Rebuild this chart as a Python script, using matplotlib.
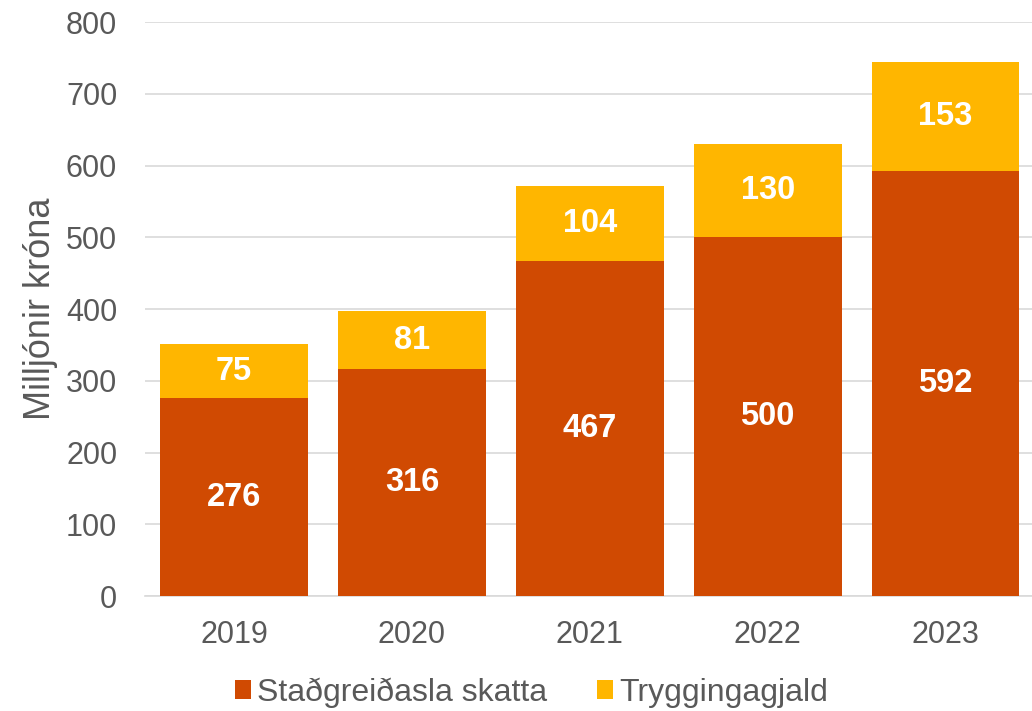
import matplotlib
matplotlib.use('Agg')
import matplotlib.pyplot as plt
import numpy as np

plt.rcParams['font.family'] = ['Liberation Sans', 'DejaVu Sans']

ar = ['2019', '2020', '2021', '2022', '2023']
stadgreidsla = [276, 316, 467, 500, 592]
tryggingagjald = [75, 81, 104, 130, 153]

litur_1 = '#D04A02'
litur_2 = '#FFB600'
grar = '#595959'

fig = plt.figure(figsize=(10.32, 7.11), dpi=100)
ax = fig.add_axes([0.1405, 0.1617, 0.862, 0.8073])

x = np.arange(len(ar))
breidd = 0.83

b1 = ax.bar(x, stadgreidsla, width=breidd, color=litur_1, label='Staðgreiðasla skatta', zorder=3)
b2 = ax.bar(x, tryggingagjald, width=breidd, bottom=stadgreidsla, color=litur_2,
            label='Tryggingagjald', zorder=3)

ax.bar_label(b1, label_type='center', color='white', fontsize=23.5, fontweight='bold')
ax.bar_label(b2, label_type='center', color='white', fontsize=23.5, fontweight='bold')

ax.set_ylim(0, 800)
ax.set_xlim(-0.5, len(ar) - 0.5)
ax.set_yticks(range(0, 801, 100))
ax.set_xticks(x)
ax.set_xticklabels(ar)
ax.tick_params(axis='both', length=0, labelsize=22, colors=grar)
ax.tick_params(axis='x', pad=17)
ax.tick_params(axis='y', pad=20)
ax.grid(axis='y', color='#D9D9D9', linewidth=1.2, zorder=0)

for s in ['top', 'right', 'left']:
    ax.spines[s].set_visible(False)
ax.spines['bottom'].set_color('#D9D9D9')
ax.spines['bottom'].set_linewidth(1.2)

ax.set_ylabel('Milljónir króna', fontsize=26, color=grar)
ax.yaxis.set_label_coords(-0.0975, 0.5)

ax.legend(loc='center', bbox_to_anchor=(0.515, 0.026), bbox_transform=fig.transFigure,
          ncol=2, frameon=False, fontsize=23, labelcolor=grar,
          handlelength=0.5, handleheight=0.5, columnspacing=1.57, handletextpad=0.19)

fig.savefig('out.png', dpi=100)
